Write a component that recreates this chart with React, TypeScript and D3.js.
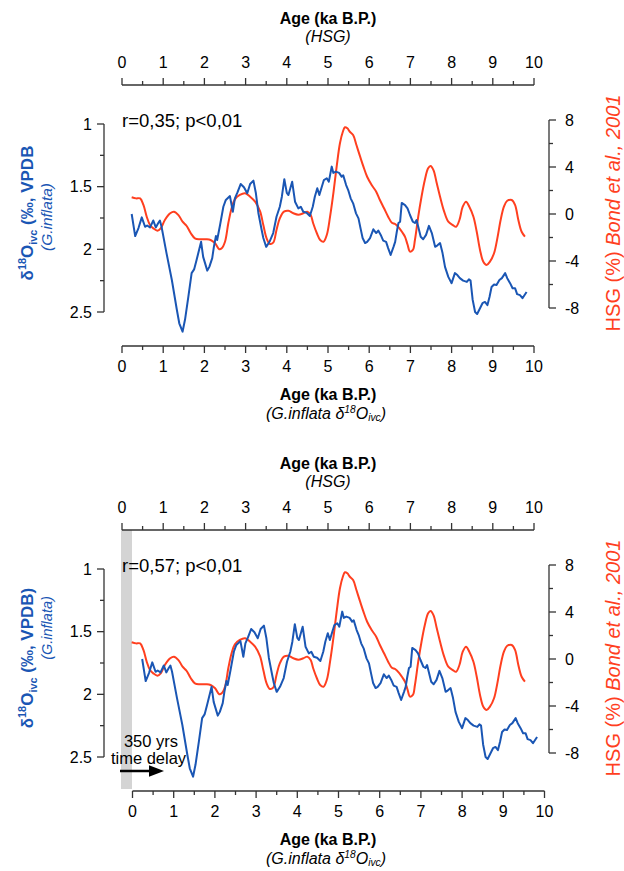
import React from 'react';
import * as d3 from 'd3';

// G. inflata d18O ivc record (age in ka B.P., value in permil VPDB)
const blueAge = [0.235, 0.32, 0.4, 0.48, 0.56, 0.61, 0.68, 0.76, 0.82, 0.88, 0.92, 0.96, 1.08, 1.21, 1.33, 1.39, 1.47, 1.53, 1.61, 1.69, 1.75, 1.81, 1.92, 1.97, 2.07, 2.12, 2.19, 2.23, 2.28, 2.31, 2.38, 2.46, 2.52, 2.62, 2.69, 2.74, 2.8, 2.88, 2.96, 3.04, 3.11, 3.19, 3.25, 3.31, 3.39, 3.43, 3.5, 3.58, 3.67, 3.75, 3.83, 3.88, 3.94, 4.0, 4.04, 4.13, 4.2, 4.28, 4.34, 4.4, 4.48, 4.56, 4.63, 4.68, 4.74, 4.79, 4.85, 4.9, 4.97, 5.02, 5.09, 5.13, 5.19, 5.27, 5.33, 5.37, 5.44, 5.49, 5.55, 5.61, 5.68, 5.74, 5.79, 5.84, 5.9, 5.95, 6.02, 6.1, 6.17, 6.22, 6.28, 6.34, 6.41, 6.46, 6.52, 6.59, 6.63, 6.67, 6.71, 6.75, 6.79, 6.87, 6.93, 6.99, 7.06, 7.11, 7.15, 7.19, 7.25, 7.31, 7.38, 7.45, 7.52, 7.6, 7.65, 7.72, 7.78, 7.84, 7.92, 8.0, 8.08, 8.14, 8.2, 8.28, 8.37, 8.42, 8.46, 8.51, 8.57, 8.62, 8.69, 8.75, 8.81, 8.87, 8.92, 8.97, 9.03, 9.09, 9.16, 9.22, 9.3, 9.35, 9.42, 9.48, 9.54, 9.59, 9.66, 9.72, 9.76, 9.82];
const blueD18O = [1.718, 1.894, 1.83, 1.745, 1.82, 1.81, 1.825, 1.77, 1.825, 1.79, 1.77, 1.82, 2.03, 2.245, 2.48, 2.59, 2.657, 2.56, 2.38, 2.19, 2.16, 2.085, 1.94, 2.06, 2.17, 2.14, 2.07, 1.98, 1.894, 1.926, 1.806, 1.66, 1.606, 1.575, 1.7, 1.593, 1.548, 1.479, 1.505, 1.553, 1.479, 1.452, 1.553, 1.71, 1.846, 1.91, 1.98, 1.94, 1.87, 1.74, 1.66, 1.58, 1.44, 1.55, 1.567, 1.46, 1.62, 1.673, 1.66, 1.7, 1.708, 1.734, 1.66, 1.58, 1.513, 1.567, 1.5, 1.447, 1.433, 1.46, 1.34, 1.39, 1.38, 1.39, 1.42, 1.41, 1.487, 1.527, 1.593, 1.633, 1.713, 1.753, 1.833, 1.91, 1.95, 1.94, 1.91, 1.84, 1.87, 1.85, 1.885, 1.93, 1.94, 1.99, 2.045, 1.98, 1.94, 1.86, 1.79, 1.78, 1.63, 1.647, 1.673, 1.726, 1.78, 1.79, 1.766, 1.82, 1.9, 1.92, 1.885, 1.813, 1.87, 1.98, 1.97, 1.95, 2.03, 2.14, 2.22, 2.27, 2.19, 2.205, 2.23, 2.25, 2.26, 2.24, 2.25, 2.4, 2.5, 2.516, 2.47, 2.43, 2.42, 2.445, 2.38, 2.3, 2.28, 2.285, 2.245, 2.23, 2.19, 2.23, 2.27, 2.31, 2.31, 2.357, 2.365, 2.39, 2.37, 2.34];

// HSG record, Bond et al., 2001 (age in ka B.P., %)
const redAge = [0.235, 0.34, 0.44, 0.52, 0.6, 0.68, 0.76, 0.86, 0.94, 1.04, 1.17, 1.26, 1.37, 1.47, 1.57, 1.67, 1.77, 1.89, 2.04, 2.15, 2.26, 2.36, 2.42, 2.5, 2.58, 2.66, 2.74, 2.86, 2.99, 3.11, 3.23, 3.35, 3.43, 3.51, 3.59, 3.67, 3.75, 3.83, 3.93, 4.04, 4.16, 4.28, 4.4, 4.5, 4.58, 4.64, 4.73, 4.81, 4.89, 4.97, 5.05, 5.13, 5.21, 5.29, 5.36, 5.41, 5.47, 5.53, 5.61, 5.69, 5.78, 5.86, 5.95, 6.06, 6.17, 6.26, 6.36, 6.46, 6.55, 6.63, 6.73, 6.81, 6.87, 6.93, 6.99, 7.06, 7.11, 7.19, 7.27, 7.35, 7.43, 7.49, 7.56, 7.64, 7.72, 7.82, 7.92, 8.03, 8.11, 8.19, 8.27, 8.35, 8.43, 8.53, 8.61, 8.69, 8.77, 8.85, 8.93, 9.03, 9.11, 9.19, 9.27, 9.35, 9.46, 9.54, 9.62, 9.7, 9.78];
const redHSG = [1.42, 1.33, 1.33, 0.77, -0.23, -0.94, -1.22, -1.42, -1.22, -0.51, 0.06, 0.2, -0.09, -0.65, -1.02, -1.64, -2.07, -2.15, -2.15, -2.21, -2.49, -3.0, -2.92, -2.36, -0.79, 0.49, 1.25, 1.62, 1.76, 1.47, 1.05, 0.25, -0.94, -2.07, -2.55, -2.44, -1.36, -0.37, 0.2, 0.28, 0.06, -0.06, 0.06, 0.2, -0.09, -0.79, -1.64, -2.21, -2.36, -1.79, -0.23, 1.76, 4.03, 6.02, 7.0, 7.38, 7.29, 7.0, 6.72, 5.87, 4.88, 4.03, 3.17, 2.47, 1.9, 1.19, 0.49, -0.23, -0.74, -0.85, -1.2, -1.6, -1.95, -2.6, -3.2, -3.06, -2.21, -0.23, 1.47, 2.89, 3.89, 4.09, 3.74, 2.61, 1.47, 0.2, -0.65, -0.94, -1.08, -0.51, 0.62, 1.05, 0.62, -0.23, -1.51, -3.06, -4.06, -4.34, -4.06, -3.34, -2.07, -0.51, 0.62, 1.13, 1.19, 0.77, -0.51, -1.51, -1.93];

const ageTicks = d3.range(0, 11);
const ageMinor = d3.range(0.5, 10, 1);
const d18OTicks = [1, 1.5, 2, 2.5];
const d18OMinor = [1.25, 1.75, 2.25];
const hsgTicks = [8, 4, 0, -4, -8];
const hsgMinor = [6, 2, -2, -6];
const corrLabels = ['r=0,35; p<0,01', 'r=0,57; p<0,01'];

const BLUE = '#1a56b4';
const RED = '#ff3f1f';
const AXIS = '#333';
const FONT = 'Liberation Sans, Arial, sans-serif';

const topX = d3.scaleLinear().domain([0, 10]).range([122, 534]);
const yLeft = d3.scaleLinear().domain([1, 2.5]).range([124, 312]);
const yRight = d3.scaleLinear().domain([8, -8]).range([120, 308]);

// d18O with superscript 18 and subscript ivc
function D18O({ fs, tail, sub = 0.22 }: { fs: number; tail: string; sub?: number }) {
  const up = fs * 0.4;
  const down = fs * sub;
  return (
    <>
      δ<tspan fontSize={fs * 0.64} dy={-up}>18</tspan>
      <tspan dy={up}>O</tspan>
      <tspan fontSize={fs * 0.64} dy={down}>ivc</tspan>
      <tspan dy={-down}>{tail}</tspan>
    </>
  );
}

function Panel({ idx }: { idx: number }) {
  const second = idx === 1;
  const botX = second
    ? d3.scaleLinear().domain([0, 10]).range([132.5, 544.5])
    : topX;

  const blueLine = d3
    .line<number>()
    .x((_, i) => botX(blueAge[i]))
    .y((d) => yLeft(d));
  const redLine = d3
    .line<number>()
    .x((_, i) => topX(redAge[i]))
    .y((d) => yRight(d))
    .curve(d3.curveCatmullRom.alpha(0.5));

  const subFs = second ? 14.5 : 15.5;

  return (
    <g transform={`translate(0,${idx * 445})`} fontFamily={FONT}>
      {second && <rect x={121} y={85} width={11} height={259} fill="#d4d4d4" />}

      {/* top axis (HSG age) */}
      <text x={328} y={23.5} textAnchor="middle" fontWeight="bold" fontSize={16}>Age (ka B.P.)</text>
      <text x={328} y={41.5} textAnchor="middle" fontStyle="italic" fontSize={16}>(HSG)</text>
      <line x1={topX(0)} x2={topX(10)} y1={85} y2={85} stroke={AXIS} strokeWidth={1.3} />
      {ageTicks.map((t) => (
        <g key={'tt' + t}>
          <line x1={topX(t)} x2={topX(t)} y1={85} y2={78} stroke={AXIS} strokeWidth={1.3} />
          <text x={topX(t)} y={67.5} textAnchor="middle" fontSize={16}>{t}</text>
        </g>
      ))}
      {ageMinor.map((t) => (
        <line key={'tm' + t} x1={topX(t)} x2={topX(t)} y1={85} y2={81} stroke={AXIS} strokeWidth={1.3} />
      ))}

      {/* bottom axis (G. inflata age) */}
      <line x1={botX(0)} x2={botX(10)} y1={346} y2={346} stroke={AXIS} strokeWidth={1.3} />
      {ageTicks.map((t) => (
        <g key={'bt' + t}>
          <line x1={botX(t)} x2={botX(t)} y1={346} y2={353} stroke={AXIS} strokeWidth={1.3} />
          <text x={botX(t)} y={371.5} textAnchor="middle" fontSize={16}>{t}</text>
        </g>
      ))}
      {ageMinor.map((t) => (
        <line key={'bm' + t} x1={botX(t)} x2={botX(t)} y1={346} y2={350} stroke={AXIS} strokeWidth={1.3} />
      ))}
      <text x={328} y={400} textAnchor="middle" fontWeight="bold" fontSize={16}>Age (ka B.P.)</text>
      <text x={326} y={419} textAnchor="middle" fontStyle="italic" fontSize={16}>
        (G.inflata <D18O fs={16} tail=")" sub={0.15} />
      </text>

      {/* left axis */}
      <line x1={104} x2={104} y1={yLeft(1)} y2={yLeft(2.5)} stroke={AXIS} strokeWidth={1.3} />
      {d18OTicks.map((t) => (
        <g key={'lt' + t}>
          <line x1={104} x2={97} y1={yLeft(t)} y2={yLeft(t)} stroke={AXIS} strokeWidth={1.3} />
          <text x={92} y={yLeft(t) + 5.5} textAnchor="end" fontSize={16}>{t}</text>
        </g>
      ))}
      {d18OMinor.map((t) => (
        <line key={'lm' + t} x1={104} x2={100} y1={yLeft(t)} y2={yLeft(t)} stroke={AXIS} strokeWidth={1.3} />
      ))}
      <text transform="translate(33,213) rotate(-90)" textAnchor="middle" fill={BLUE} fontWeight="bold" fontSize={17}>
        <D18O fs={17} tail={second ? ' (‰, VPDB)' : ' (‰, VPDB'} />
      </text>
      <text transform={`translate(52,${second ? 183 : 217}) rotate(-90)`} textAnchor="middle" fill={BLUE} fontStyle="italic" fontSize={subFs}>
        (G.inflata)
      </text>

      {/* right axis */}
      <line x1={549} x2={549} y1={yRight(8)} y2={yRight(-8)} stroke={AXIS} strokeWidth={1.3} />
      {hsgTicks.map((t) => (
        <g key={'rt' + t}>
          <line x1={549} x2={556} y1={yRight(t)} y2={yRight(t)} stroke={AXIS} strokeWidth={1.3} />
          <text x={565} y={yRight(t) + 5.5} fontSize={16}>{t}</text>
        </g>
      ))}
      {hsgMinor.map((t) => (
        <line key={'rm' + t} x1={549} x2={553} y1={yRight(t)} y2={yRight(t)} stroke={AXIS} strokeWidth={1.3} />
      ))}
      <text transform="translate(619.5,213) rotate(-90)" textAnchor="middle" fill={RED} fontSize={20}>
        HSG (%) <tspan fontStyle="italic">Bond et al., 2001</tspan>
      </text>

      <text x={122} y={126.5} fontSize={18.5}>{corrLabels[idx]}</text>

      <path d={redLine(redHSG) || ''} fill="none" stroke={RED} strokeWidth={2} />
      <path d={blueLine(blueD18O) || ''} fill="none" stroke={BLUE} strokeWidth={2} strokeLinejoin="round" />

      {second && (
        <g>
          <text x={151} y={301.5} textAnchor="middle" fontSize={16.5}>350 yrs</text>
          <text x={148.5} y={318.5} textAnchor="middle" fontSize={16.5}>time delay</text>
          <line x1={120} x2={151} y1={326} y2={326} stroke="#000" strokeWidth={2.5} />
          <path d="M149,320.3 L164,326 L149,331.7 Z" fill="#000" />
        </g>
      )}
    </g>
  );
}

export default function App() {
  return (
    <svg width={624} height={871} style={{ position: 'absolute', left: 0, top: 0, background: '#fff' }}>
      <Panel idx={0} />
      <Panel idx={1} />
    </svg>
  );
}
